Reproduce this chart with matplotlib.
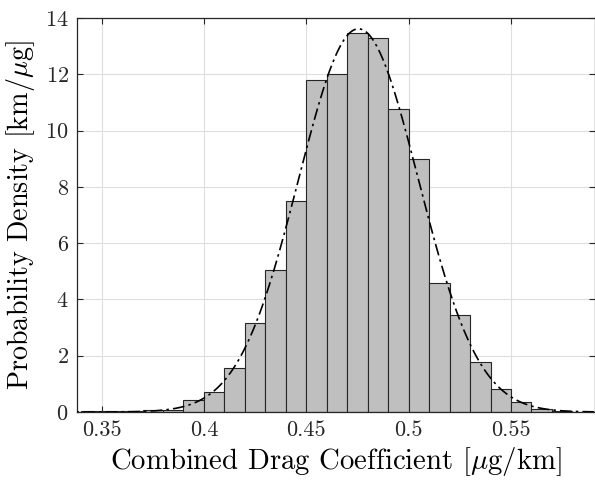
import numpy as np
import matplotlib
matplotlib.use("Agg")
import matplotlib.pyplot as plt

# histogram bin edges (width 0.01) and density values
binEdges = [0.34, 0.35, 0.36, 0.37, 0.38, 0.39, 0.40, 0.41, 0.42, 0.43, 0.44, 0.45, 0.46,
            0.47, 0.48, 0.49, 0.50, 0.51, 0.52, 0.53, 0.54, 0.55, 0.56, 0.57, 0.58, 0.59]
density = [0.02, 0.02, 0.02, 0.08, 0.08, 0.42, 0.71, 1.55, 3.15, 5.03, 7.48, 11.8, 12.0,
           13.45, 13.28, 10.77, 9.0, 4.57, 3.43, 1.78, 0.80, 0.36, 0.12, 0.03, 0.01]

# fitted normal distribution
fitMean = 0.4755
fitStd = 0.0293

xTicks = [0.35, 0.4, 0.45, 0.5, 0.55]
xTickLabels = ["0.35", "0.4", "0.45", "0.5", "0.55"]
yTicks = [0, 2, 4, 6, 8, 10, 12, 14]

plt.rcParams["font.family"] = "serif"
plt.rcParams["font.serif"] = ["cmr10"]
plt.rcParams["mathtext.fontset"] = "cm"
plt.rcParams["axes.formatter.use_mathtext"] = True
plt.rcParams["text.color"] = "#262626"
plt.rcParams["xtick.color"] = "#262626"
plt.rcParams["ytick.color"] = "#262626"

fig = plt.figure(figsize=(5.95, 4.87), dpi=100)
ax = fig.add_axes([77 / 595, 1 - 412 / 487, (594.5 - 77) / 595, (412 - 18) / 487])

edges = np.array(binEdges)
ax.bar(edges[:-1], density, width=np.diff(edges), align="edge",
       color="#bfbfbf", edgecolor="#262626", linewidth=0.8, zorder=2)

xs = np.linspace(0.33, 0.6, 600)
pdf = np.exp(-0.5 * ((xs - fitMean) / fitStd) ** 2) / (fitStd * np.sqrt(2 * np.pi))
ax.plot(xs, pdf, color="black", linewidth=1.2, linestyle=(0, (7, 2.5, 1.5, 2.5)), zorder=3)

ax.set_xlim(0.338, 0.5908)
ax.set_ylim(0, 14)
ax.set_xticks(xTicks)
ax.set_xticklabels(xTickLabels)
ax.set_yticks(yTicks)
ax.grid(True, color="#dedede", linewidth=0.8, zorder=0)
ax.set_axisbelow(True)
ax.tick_params(direction="in", top=True, right=True, length=4, width=0.8,
               labelsize=16, pad=6)
for s in ax.spines.values():
    s.set_linewidth(0.9)
    s.set_color("#262626")

ax.set_xlabel(r"Combined Drag Coefficient [$\mu$g/km]", fontsize=20.7, labelpad=4)
ax.set_ylabel(r"Probability Density [km/$\mu$g]", fontsize=20.3, labelpad=6)

fig.savefig("out.png", dpi=100)
